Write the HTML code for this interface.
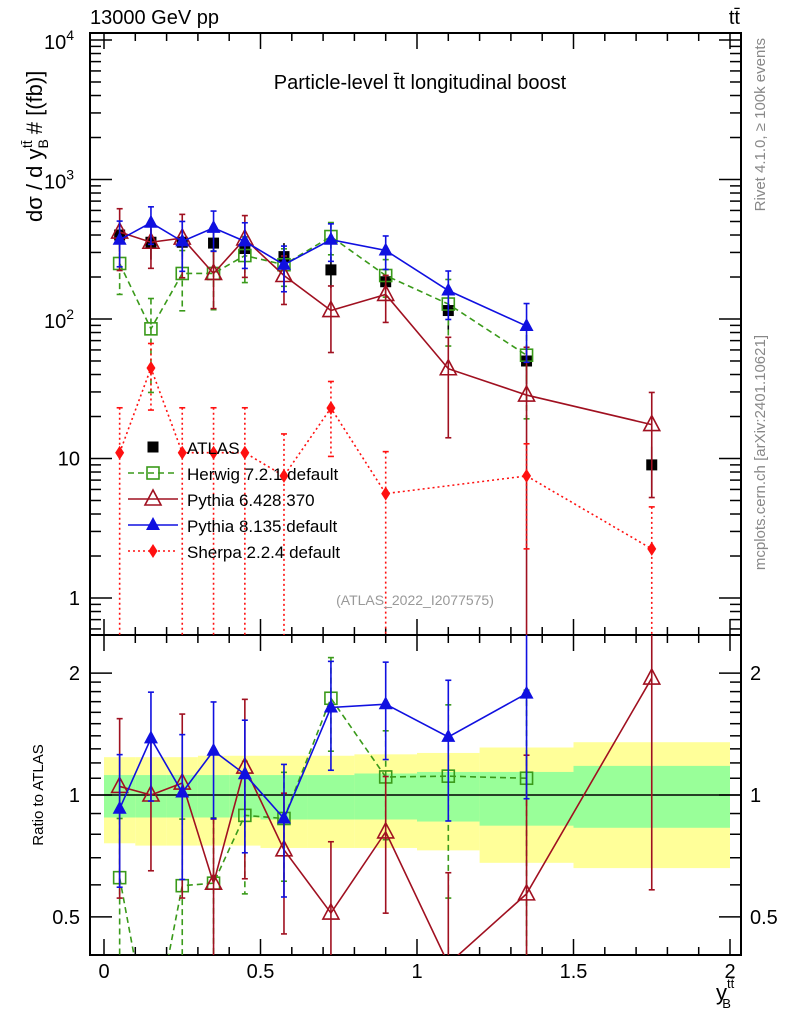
<!DOCTYPE html>
<html><head><meta charset="utf-8"><style>
html,body{margin:0;background:#fff;overflow:hidden;width:786px;height:1024px;}
svg{display:block;font-family:"Liberation Sans",sans-serif;}
</style></head><body>
<svg id="c" width="786" height="1024" viewBox="0 0 786 1024" xmlns="http://www.w3.org/2000/svg"></svg>
<script>
const binCenters=[0.05,0.15,0.25,0.35,0.45,0.575,0.725,0.9,1.1,1.35,1.75];
const binEdges=[0,0.1,0.2,0.3,0.4,0.5,0.65,0.8,1.0,1.2,1.5,2.0];
const atlasVals=[400,355,355,350,320,280,225,185,115,50,9];
const herwigVals=[250,85,212,212,285,245,390,205,128,55,null];
const herwigErr=[0.4,0.65,0.46,0.45,0.36,0.3,0.26,0.3,0.5,0.65,null];
const py6Vals=[420,355,380,212,375,205,115,150,44,28.5,17.5];
const py6Err=[0.47,0.35,0.48,0.44,0.47,0.38,0.5,0.37,0.68,1.2,0.7];
const py8Vals=[370,490,360,450,360,245,370,310,160,89,null];
const py8Err=[0.36,0.3,0.39,0.32,0.36,0.36,0.3,0.27,0.38,0.45,null];
const sherpaVals=[11,44.5,11,11,11,7.5,23,5.6,null,7.5,2.25];
const sherpaErr=[1.1,0.5,1.1,1.1,1.1,1.0,0.55,1.0,null,0.7,1.0];
const yellowHi=[1.24,1.24,1.24,1.25,1.25,1.25,1.25,1.26,1.27,1.31,1.35];
const yellowLo=[0.76,0.75,0.75,0.75,0.75,0.74,0.74,0.74,0.73,0.68,0.66];
const greenHi=[1.12,1.12,1.12,1.12,1.12,1.12,1.12,1.13,1.14,1.14,1.18];
const greenLo=[0.88,0.88,0.88,0.88,0.88,0.87,0.87,0.87,0.86,0.84,0.83];
const xTicks=[0,0.5,1,1.5,2];
const xTickLabels=["0","0.5","1","1.5","2"];

const NS="http://www.w3.org/2000/svg";
const svg=document.getElementById('c');
const L=90,R=741,T1=33,B1=635,T2=635,B2=955;
const X=v=>104+v*313;
const Y1=v=>598-139.5*Math.log10(v);
const Y2=v=>795-405*Math.log10(v);
function el(tag,attrs,parent){const e=document.createElementNS(NS,tag);for(const k in attrs)e.setAttribute(k,attrs[k]);(parent||svg).appendChild(e);return e;}
function txt(s,x,y,attrs,parent){const e=el('text',Object.assign({x:x,y:y,'font-size':20,fill:'#000'},attrs||{}),parent);e.textContent=s;return e;}

const defs=el('defs',{});
const c1=el('clipPath',{id:'cp1'},defs);el('rect',{x:L,y:T1,width:R-L,height:B1-T1},c1);
const c2=el('clipPath',{id:'cp2'},defs);el('rect',{x:L,y:T2,width:R-L,height:B2-T2},c2);

const gBand=el('g',{'clip-path':'url(#cp2)'});


for(let i=0;i<binCenters.length;i++){
  const x0=X(binEdges[i]),x1=X(binEdges[i+1]);
  const y=el('rect',{x:x0,y:Y2(yellowHi[i]),width:x1-x0,height:Y2(yellowLo[i])-Y2(yellowHi[i]),fill:'#ffff99'},gBand);
  
  
}
for(let i=0;i<binCenters.length;i++){
  const x0=X(binEdges[i]),x1=X(binEdges[i+1]);
  const g=el('rect',{x:x0,y:Y2(greenHi[i]),width:x1-x0,height:Y2(greenLo[i])-Y2(greenHi[i]),fill:'#99ff99'},gBand);
  
  
}
const one=el('line',{x1:L,x2:R,y1:Y2(1),y2:Y2(1),stroke:'#000','stroke-width':1.5});



function frame(top,bot,name){
  const r=el('rect',{x:L,y:top,width:R-L,height:bot-top,fill:'none',stroke:'#000','stroke-width':2});
  
  
}
frame(T1,B1,'main-plot-frame');frame(T2,B2,'ratio-plot-frame');
const tk=el('g',{stroke:'#000','stroke-width':1.5});


for(let v=0;v<=2.001;v+=0.1){
  const x=X(v);const major=Math.abs(v*2-Math.round(v*2))<1e-6;const len=major?16:8;
  [[T1,1],[B1,-1],[T2,1],[B2,-1]].forEach(([y,d])=>el('line',{x1:x,x2:x,y1:y,y2:y+d*len},tk));
}
for(let d=-1;d<=4;d++){for(let m=1;m<10;m++){const v=m*Math.pow(10,d);const y=Y1(v);if(y<T1||y>B1)continue;const len=m==1?22:11;
  el('line',{x1:L,x2:L+len,y1:y,y2:y},tk);el('line',{x1:R,x2:R-len,y1:y,y2:y},tk);}}
[0.5,0.6,0.7,0.8,0.9,1,1.1,1.2,1.3,1.4,1.5,1.6,1.7,1.8,1.9,2].forEach(v=>{const y=Y2(v);const major=(v==0.5||v==1||v==2);const len=major?22:11;
  el('line',{x1:L,x2:L+len,y1:y,y2:y},tk);el('line',{x1:R,x2:R-len,y1:y,y2:y},tk);});

const lblMain=[["1",1],["10",10]];
lblMain.forEach(([s,v])=>{const t=txt(s,80,Y1(v)+7,{'text-anchor':'end'});});
[[2,'10'],[3,'10'],[4,'10']].forEach(([p,b])=>{const t=txt(b,74,Y1(Math.pow(10,p))+9,{'text-anchor':'end'});
  const s=document.createElementNS(NS,'tspan');s.setAttribute('dy','-9');s.setAttribute('font-size','14');s.textContent=p;t.appendChild(s);});
[["2",2],["1",1],["0.5",0.5]].forEach(([s,v])=>{
  const a=txt(s,80,Y2(v)+7,{'text-anchor':'end'});
  const b=txt(s,750,Y2(v)+7,{'text-anchor':'start'});});
xTicks.forEach((v,i)=>{const t=txt(xTickLabels[i],X(v),978,{'text-anchor':'middle'});});

const series=[
 {name:'herwig',vals:herwigVals,err:herwigErr,color:'#3a9a1a',dash:'6,4',marker:'osq'},
 {name:'pythia6',vals:py6Vals,err:py6Err,color:'#a01020',dash:null,marker:'otri'},
 {name:'pythia8',vals:py8Vals,err:py8Err,color:'#1010e0',dash:null,marker:'ftri'},
 {name:'sherpa',vals:sherpaVals,err:sherpaErr,color:'#ff1010',dash:'2,3',marker:'dia'}
];
function marker(type,x,y,color,g){
  let m;
  if(type=='osq')m=el('rect',{x:x-6,y:y-6,width:12,height:12,fill:'none',stroke:color,'stroke-width':1.6},g);
  else if(type=='fsq')m=el('rect',{x:x-5.5,y:y-5.5,width:11,height:11,fill:color},g);
  else if(type=='otri')m=el('polygon',{points:`${x},${y-9} ${x-8},${y+6} ${x+8},${y+6}`,fill:'#fff','fill-opacity':0,stroke:color,'stroke-width':1.6},g);
  else if(type=='ftri')m=el('polygon',{points:`${x},${y-8} ${x-7},${y+5} ${x+7},${y+5}`,fill:color},g);
  else m=el('polygon',{points:`${x},${y-7} ${x-4.5},${y} ${x},${y+7} ${x+4.5},${y}`,fill:color},g);
  
  
}
function drawSeries(s,Yf,clip,ratio){
  const g=el('g',{'clip-path':clip});
  
  
  let pts=[];
  s.vals.forEach((v,i)=>{if(v==null)return;const val=ratio?v/atlasVals[i]:v;pts.push([X(binCenters[i]),Yf(val),val,i]);});
  const pl=el('polyline',{points:pts.map(p=>p[0]+','+p[1]).join(' '),fill:'none',stroke:s.color,'stroke-width':1.6},g);
  if(s.dash)pl.setAttribute('stroke-dasharray',s.dash);
  
  
  pts.forEach(([x,y,val,i])=>{
    const e=s.err[i];const hi=val*(1+e),lo=Math.max(val*(1-e),1e-6);
    const yh=Yf(hi),yl=Yf(lo);
    const b=el('g',{stroke:s.color,'stroke-width':1.6},g);
    
    
    const l=el('line',{x1:x,x2:x,y1:yh,y2:yl},b);if(s.dash)l.setAttribute('stroke-dasharray',s.dash);
    el('line',{x1:x-3,x2:x+3,y1:yh,y2:yh},b);el('line',{x1:x-3,x2:x+3,y1:yl,y2:yl},b);
  });
  pts.forEach(([x,y])=>marker(s.marker,x,y,s.color,g));
}
const ga=el('g',{'clip-path':'url(#cp1)'});


atlasVals.forEach((v,i)=>{const x=X(binCenters[i]);
  const b=el('g',{stroke:'#000','stroke-width':1.6},ga);
  
  
  el('line',{x1:x,x2:x,y1:Y1(v*yellowHi[i]),y2:Y1(v*yellowLo[i])},b);
  marker('fsq',x,Y1(v),'#000',ga);});
series.forEach(s=>drawSeries(s,Y1,'url(#cp1)',false));
series.filter(s=>s.name!='sherpa').forEach(s=>drawSeries(s,Y2,'url(#cp2)',true));

const lg=el('g',{});


const legItems=[['ATLAS',null,'#000','fsq'],['Herwig 7.2.1 default','6,4','#3a9a1a','osq'],['Pythia 6.428 370',null,'#a01020','otri'],['Pythia 8.135 default',null,'#1010e0','ftri'],['Sherpa 2.2.4 default','2,3','#ff1010','dia']];
legItems.forEach(([s,d,c,m],i)=>{const y=447+i*26;
  const g=el('g',{},lg);
  
  
  if(i>0){const l=el('line',{x1:128,x2:178,y1:y,y2:y,stroke:c,'stroke-width':1.6},g);if(d)l.setAttribute('stroke-dasharray',d);}
  marker(m,153,y,c,g);
  txt(s,187,y+7,{'font-size':17},g);});

const t1=txt('13000 GeV pp',90,24,{'font-size':20});
const t2=txt('tt̄',740,24,{'font-size':20,'text-anchor':'end'});
const t3=txt('Particle-level t̄t longitudinal boost',420,89,{'font-size':20,'text-anchor':'middle'});
const t4=txt('(ATLAS_2022_I2077575)',415,605,{'font-size':14,fill:'#999','text-anchor':'middle'});
const t5=txt('Rivet 4.1.0, ≥ 100k events',0,0,{'font-size':15,fill:'#888','text-anchor':'end',transform:'translate(765,38) rotate(-90)'});
const t6=txt('mcplots.cern.ch [arXiv:2401.10621]',0,0,{'font-size':15,fill:'#888','text-anchor':'end',transform:'translate(765,335) rotate(-90)'});
const yt=txt('dσ / d y',0,0,{'font-size':22,'text-anchor':'start',transform:'translate(42,222) rotate(-90)'});

let sp=document.createElementNS(NS,'tspan');sp.setAttribute('font-size','14');sp.setAttribute('dy','6');sp.textContent='B';yt.appendChild(sp);
sp=document.createElementNS(NS,'tspan');sp.setAttribute('font-size','14');sp.setAttribute('dx','-9');sp.setAttribute('dy','-16');sp.textContent='tt̄';yt.appendChild(sp);
sp=document.createElementNS(NS,'tspan');sp.setAttribute('dy','10');sp.textContent=' # [(fb)]';yt.appendChild(sp);
const rt=txt('Ratio to ATLAS',0,0,{'font-size':15,'text-anchor':'middle',transform:'translate(43,795) rotate(-90)'});
const xt=txt('y',716,1000,{'font-size':22});
sp=document.createElementNS(NS,'tspan');sp.setAttribute('font-size','13');sp.setAttribute('dy','-12');sp.textContent='tt̄';xt.appendChild(sp);
sp=document.createElementNS(NS,'tspan');sp.setAttribute('font-size','13');sp.setAttribute('dx','-12');sp.setAttribute('dy','20');sp.textContent='B';xt.appendChild(sp);
</script>
</body></html>
